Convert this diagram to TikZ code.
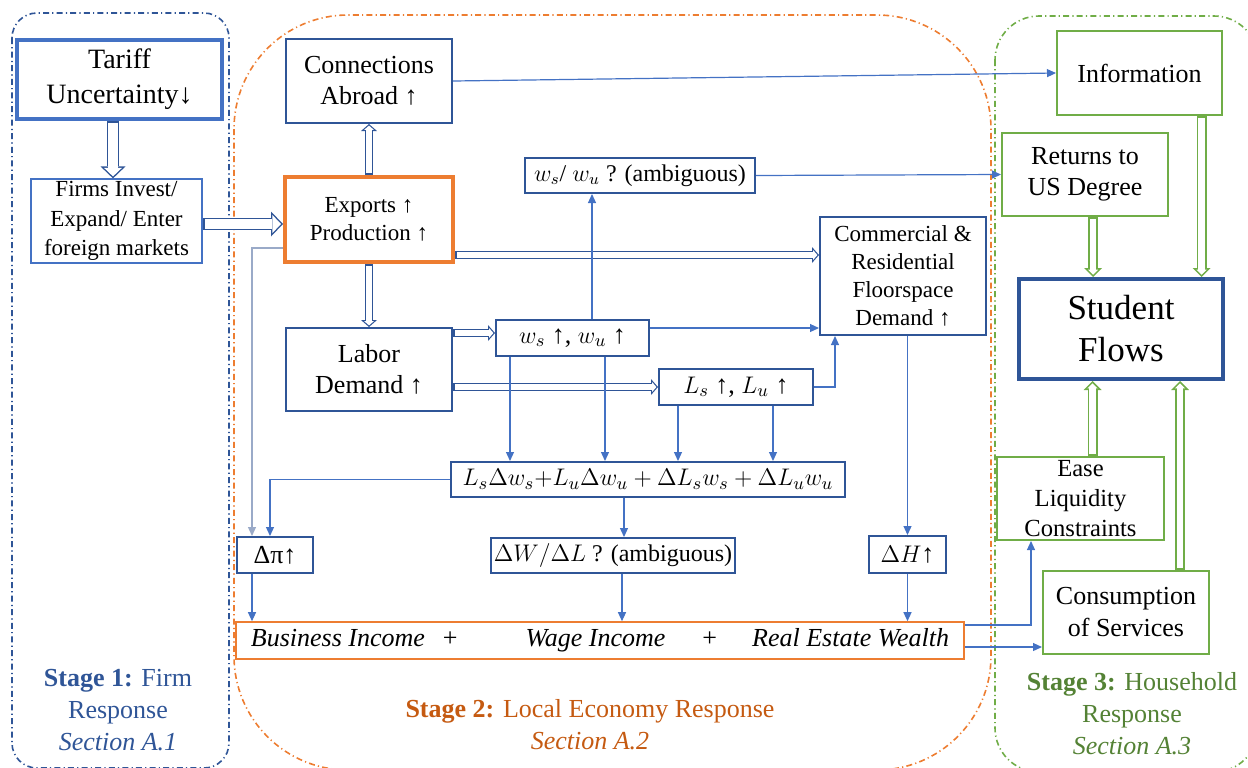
\documentclass[tikz,border=0pt]{standalone}
\usepackage{fontspec}
\setmainfont{Liberation Serif}
\usepackage{amsmath}
\usetikzlibrary{arrows.meta,positioning}

\definecolor{dkblue}{HTML}{2F5597}
\definecolor{mdblue}{HTML}{4472C4}
\definecolor{ltblue}{HTML}{9AAAC8}
\definecolor{orng}{HTML}{ED7D31}
\definecolor{dkorng}{HTML}{C55A11}
\definecolor{grn}{HTML}{70AD47}
\definecolor{dkgrn}{HTML}{548235}

\begin{document}
\begin{tikzpicture}
  [x=0.5pt,y=-0.5pt,
   every node/.style={align=center,inner sep=1pt,font=\fontsize{13}{15.5}\selectfont},
   box/.style={draw=dkblue,line width=1pt},
   gbox/.style={draw=grn,line width=1pt},
   % hollow block arrows: coloured outline, white inside
   dbl/.style={draw=dkblue,line width=4pt,-{Triangle[length=3.5pt,width=8pt,line width=0pt]},
     postaction={draw=white,line width=2.8pt,shorten <=1pt,shorten >=0.8pt,
                 -{Triangle[length=2.1pt,width=4.8pt,line width=0pt]}}},
   bigdbl/.style={draw=dkblue,line width=6pt,-{Triangle[length=6pt,width=12.5pt,line width=0pt]},
     postaction={draw=white,line width=4.6pt,shorten <=1.1pt,shorten >=1pt,
                 -{Triangle[length=4.3pt,width=9pt,line width=0pt]}}},
   gdbl/.style={draw=grn,line width=5pt,-{Triangle[length=4.5pt,width=9pt,line width=0pt]},
     postaction={draw=white,line width=3.4pt,shorten <=1.2pt,shorten >=1.13pt,
                 -{Triangle[length=2.57pt,width=5.14pt,line width=0pt]}}},
   arr/.style={draw=mdblue,line width=0.6pt,-{Triangle[length=4.5pt,width=4pt]}},
   stageframe/.style={line width=0.8pt,rounded corners=#1,dash pattern=on 3pt off 1.6pt on 0.6pt off 1.6pt}]

  \useasboundingbox (0,0) rectangle (1248,767);
  \clip (0,0) rectangle (1248,767);

  % stage frames
  \draw[stageframe=12.5pt,dkblue] (12,13) rectangle (229,768);
  \draw[stageframe=57pt,orng] (234,15) rectangle (991,770);
  \draw[stageframe=22pt,grn] (995,16) rectangle (1258,772);

  % stage 1
  \node[box,draw=mdblue,line width=2pt,minimum width=102.5pt,minimum height=39.5pt,
        font=\fontsize{14}{17.5}\selectfont] (tariff) at (119.5,79) {Tariff\\Uncertainty↓};
  \node[box,draw=mdblue,line width=0.6pt,minimum width=85.5pt,minimum height=42pt,
        font=\fontsize{11.5}{14.75}\selectfont] (firms) at (116.5,221) {Firms Invest/\\Expand/ Enter\\foreign markets};

  % stage 2
  \node[box,minimum width=83pt,minimum height=42pt] (conn) at (369,81) {Connections\\Abroad ↑};
  \node[box,draw=orng,line width=2pt,minimum width=84pt,minimum height=42.5pt,
        font=\fontsize{11.5}{14}\selectfont] (exports) at (369,219.5) {Exports ↑\\Production ↑};
  \node[box,minimum width=115pt,minimum height=17.5pt,font=\fontsize{12}{14}\selectfont] (ratio) at (640,175.5) {$w_s$/ $w_u$ ? (ambiguous)};
  \node[box,minimum width=83pt,minimum height=59pt,font=\fontsize{11.5}{14}\selectfont] (comm) at (903,276) {Commercial \&\\Residential\\Floorspace\\Demand ↑};
  \node[box,minimum width=83pt,minimum height=41.5pt] (labor) at (369,369.5) {Labor\\Demand ↑};
  \node[box,minimum width=76.5pt,minimum height=18pt] (wage) at (572.5,338) {$w_s$ ↑, $w_u$ ↑};
  \node[box,minimum width=77pt,minimum height=18pt] (lab) at (736,387) {$L_s$ ↑, $L_u$ ↑};
  \node[box,minimum width=197pt,minimum height=17.5pt] (sum) at (648,479.5) {$L_s\Delta w_s{+}L_u\Delta w_u+\Delta L_s w_s+\Delta L_u w_u$};
  \node[box,minimum width=38pt,minimum height=18pt] (dpi) at (275,555) {Δπ↑};
  \node[box,minimum width=122pt,minimum height=17.5pt,font=\fontsize{12}{14}\selectfont] (dwl) at (613,555.5) {$\Delta W/\Delta L$ ? (ambiguous)};
  \node[box,minimum width=38.5pt,minimum height=18.5pt] (dh) at (907.5,554.5) {$\Delta H$↑};
  \node[box,draw=orng,line width=0.8pt,minimum width=364pt,minimum height=18.5pt] (income) at (600,640.5)
    {\textit{Business Income}\hspace{9pt}+\hspace{34pt}\textit{Wage Income}\hspace{18.5pt}+\hspace{17.5pt}\textit{Real Estate Wealth}};

  % stage 3
  \node[gbox,minimum width=82.5pt,minimum height=42pt] (info) at (1139.5,73) {Information};
  \node[gbox,minimum width=83pt,minimum height=41.5pt] (returns) at (1085,174.5) {Returns to\\US Degree};
  \node[box,line width=2pt,minimum width=102pt,minimum height=50pt,
        font=\fontsize{17.5}{21}\selectfont] (student) at (1121,329) {Student\\Flows};
  \node[gbox,inner sep=0pt,minimum width=83.5pt,minimum height=41.5pt,
        font=\fontsize{12.3}{14.8}\selectfont] (ease) at (1080.5,498.5) {Ease\\Liquidity\\Constraints};
  \node[gbox,minimum width=83pt,minimum height=41.5pt,font=\fontsize{13}{16}\selectfont] (cons) at (1126,612.5) {Consumption\\of Services};

  % stage labels
  \node[text=dkblue,font=\fontsize{13}{16}\selectfont] (stga) at (118,710) {\textbf{Stage 1:} Firm\\Response\\\textit{Section A.1}};
  \node[text=dkorng,font=\fontsize{13}{16}\selectfont] (stgb) at (590,725) {\textbf{Stage 2:} Local Economy Response\\\textit{Section A.2}};
  \node[text=dkgrn,font=\fontsize{13}{16}\selectfont] (stgc) at (1132,714) {\textbf{Stage 3:} Household\\Response\\\textit{Section A.3}};

  % block arrows
  \draw[bigdbl] ([xshift=-3.25pt]tariff.south) -- ([xshift=-3.25pt]tariff.south |- firms.north);
  \draw[bigdbl] ([yshift=-1.5pt]firms.east) -- ([yshift=-1.5pt]firms.east -| exports.west);
  \draw[dbl] (exports.north) -- (conn.south);
  \draw[dbl] (exports.south) -- (labor.north);
  \draw[dbl] ([yshift=-17.75pt]exports.east) -- ([yshift=-17.75pt]exports.east -| comm.west);
  \draw[dbl] ([yshift=2.5pt]labor.east |- wage.west) -- ([yshift=2.5pt]wage.west);
  \draw[dbl] (labor.east |- lab.west) -- (lab.west);
  \draw[gdbl] ([xshift=31pt]info.south) -- ([xshift=31pt]info.south |- student.north);
  \draw[gdbl] ([xshift=4pt]returns.south) -- ([xshift=4pt]returns.south |- student.north);
  \draw[gdbl] ([xshift=6pt]ease.north) -- ([xshift=6pt]ease.north |- student.south);
  \draw[gdbl] ([xshift=27pt]cons.north) -- ([xshift=27pt]cons.north |- student.south);

  % thin arrows
  \draw[arr] (conn.east) -- (info.west);
  \draw[arr] (ratio.east) -- (returns.west);
  \draw[arr] ([xshift=9.75pt]wage.north) -- ([xshift=9.75pt]wage.north |- ratio.south);
  \draw[arr] ([yshift=5pt]wage.east) -- ([yshift=5pt]wage.east -| comm.west);
  \draw[arr] (lab.east) -| ([xshift=-34pt]comm.south);
  \draw[arr] ([xshift=-31.25pt]wage.south) -- ([xshift=-31.25pt]wage.south |- sum.north);
  \draw[arr] ([xshift=16.25pt]wage.south) -- ([xshift=16.25pt]wage.south |- sum.north);
  \draw[arr] ([xshift=-29pt]lab.south) -- ([xshift=-29pt]lab.south |- sum.north);
  \draw[arr] ([xshift=18.5pt]lab.south) -- ([xshift=18.5pt]lab.south |- sum.north);
  \draw[arr] (sum.west) -| ([xshift=-2.5pt]dpi.north);
  \draw[arr,draw=ltblue] ([yshift=-14.25pt]exports.west) -| ([xshift=-11.5pt]dpi.north);
  \draw[arr] ([xshift=-12pt]sum.south) -- ([xshift=-12pt]sum.south |- dwl.north);
  \draw[arr] (comm.south -| dh.north) -- (dh.north);
  \draw[arr] ([xshift=-11.5pt]dpi.south) -- ([xshift=-11.5pt]dpi.south |- income.north);
  \draw[arr] ([xshift=4.5pt]dwl.south) -- ([xshift=4.5pt]dwl.south |- income.north);
  \draw[arr] (dh.south) -- (dh.south |- income.north);
  \draw[arr] ([yshift=7.75pt]income.east) -| ([xshift=-24.75pt]ease.south);
  \draw[arr] ([yshift=-3.25pt]income.east) -- ([yshift=-3.25pt]income.east -| cons.west);
\end{tikzpicture}
\end{document}
